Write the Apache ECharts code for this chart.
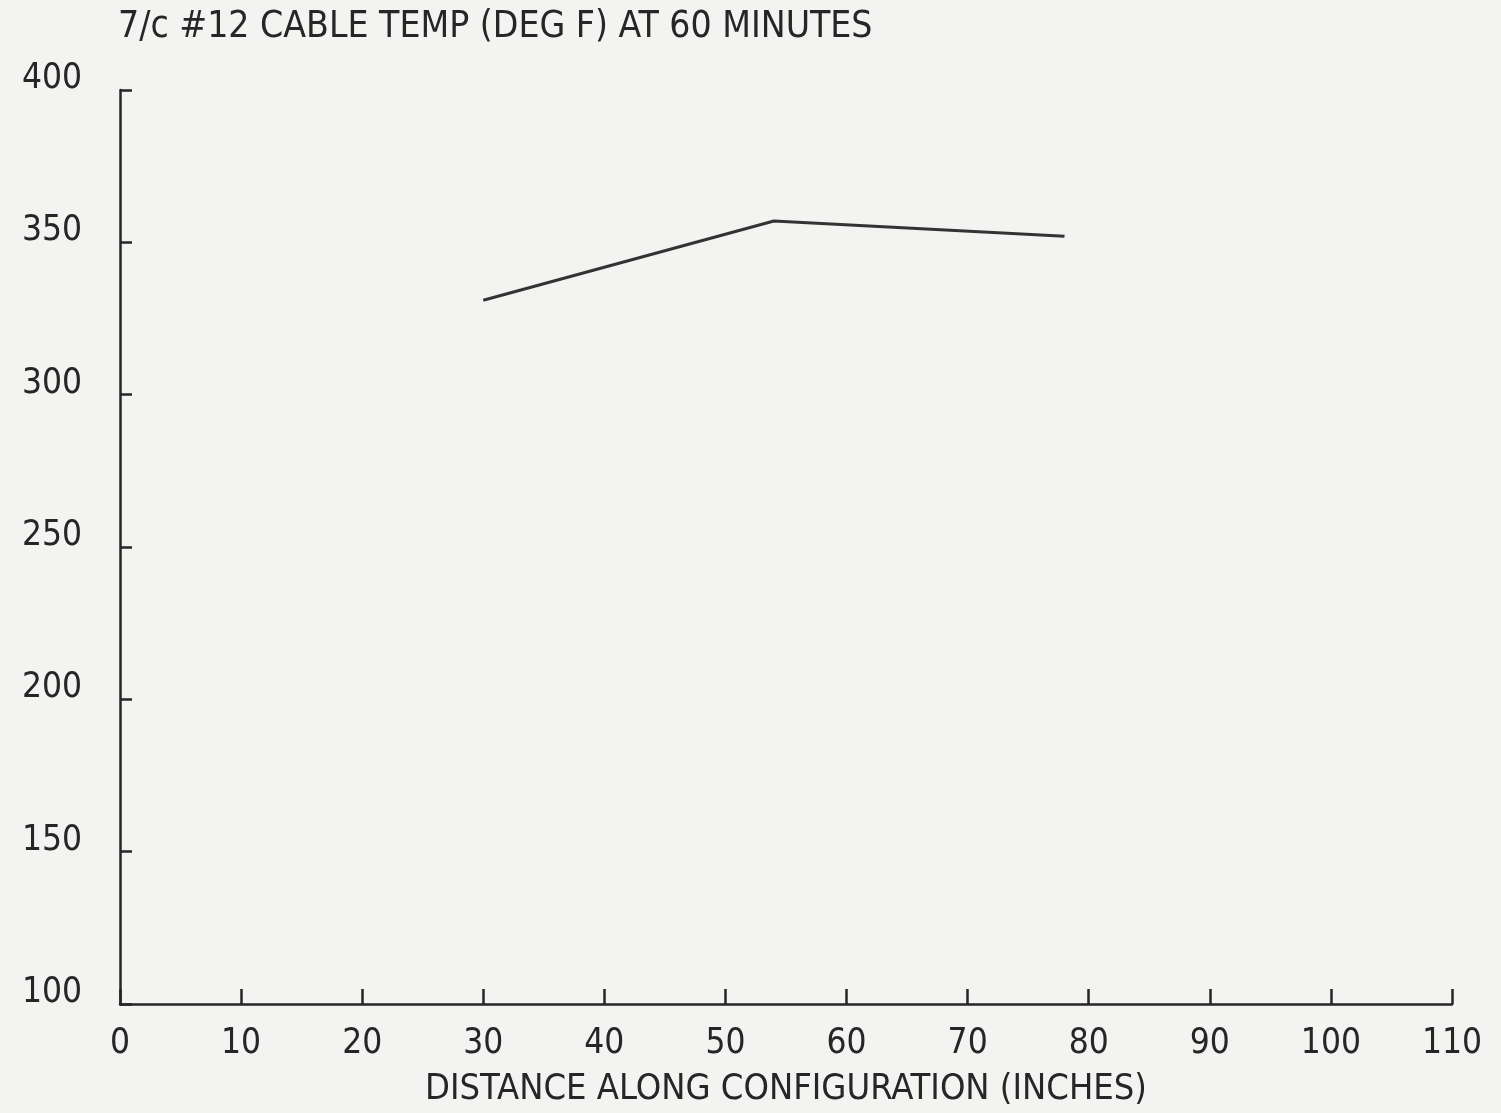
<!DOCTYPE html>
<html>
<head>
<meta charset="utf-8">
<script src="https://cdn.jsdelivr.net/npm/echarts@6/dist/echarts.min.js"></script>
<style>
    html, body { margin: 0; padding: 0; background: #f3f3f1; }
    #chart { width: 1501px; height: 1113px; }
</style>
</head>
<body>
<div id="chart"></div>
<script>
(function(){

    // distance along configuration (inches) and cable temp (deg F)
    let distance = [30, 54, 78];
    let temp = [331, 357, 352];

    let xTicks = [0, 10, 20, 30, 40, 50, 60, 70, 80, 90, 100, 110];
    let yTicks = [100, 150, 200, 250, 300, 350, 400];

    let titleText = '7/c #12 CABLE TEMP (DEG F) AT 60 MINUTES';
    let xName = 'DISTANCE ALONG CONFIGURATION (INCHES)';

    let font = "'Liberation Sans Narrow', 'DejaVu Sans Condensed', 'Liberation Sans', sans-serif";
    let ink = '#262626';

    let chart = echarts.init(document.getElementById('chart'));

    let opts = {
        backgroundColor: '#f3f3f1',
        animation: false,
        title: {
            text: titleText,
            left: 113,
            top: 4,
            textStyle: {
                fontFamily: font,
                fontSize: 37,
                fontWeight: 'normal',
                color: ink
            }
        },
        grid: {
            left: 120,
            right: 49,
            top: 90,
            bottom: 90
        },
        xAxis: {
            type: 'value',
            min: xTicks[0],
            max: xTicks[xTicks.length - 1],
            interval: 10,
            name: xName,
            nameLocation: 'middle',
            nameGap: 68,
            nameTextStyle: {
                fontFamily: font,
                fontSize: 36,
                color: ink
            },
            splitLine: { show: false },
            axisLine: { lineStyle: { color: ink, width: 2.5 } },
            axisTick: { inside: true, length: 15, lineStyle: { color: ink, width: 2.5 } },
            axisLabel: {
                margin: 22,
                fontFamily: font,
                fontSize: 35,
                color: ink
            }
        },
        yAxis: {
            type: 'value',
            min: yTicks[0],
            max: yTicks[yTicks.length - 1],
            interval: 50,
            splitLine: { show: false },
            axisLine: { show: true, lineStyle: { color: ink, width: 2.5 } },
            axisTick: { show: true, inside: true, length: 12, lineStyle: { color: ink, width: 2.5 } },
            axisLabel: {
                margin: 38,
                fontFamily: font,
                fontSize: 35,
                color: ink,
                verticalAlign: 'bottom',
                lineHeight: 22
            }
        },
        series: [{
            type: 'line',
            data: distance.map((d, i) => [d, temp[i]]),
            showSymbol: false,
            lineStyle: { color: '#333', width: 3 }
        }]
    };

    chart.setOption(opts);
})();
</script>
</body>
</html>
